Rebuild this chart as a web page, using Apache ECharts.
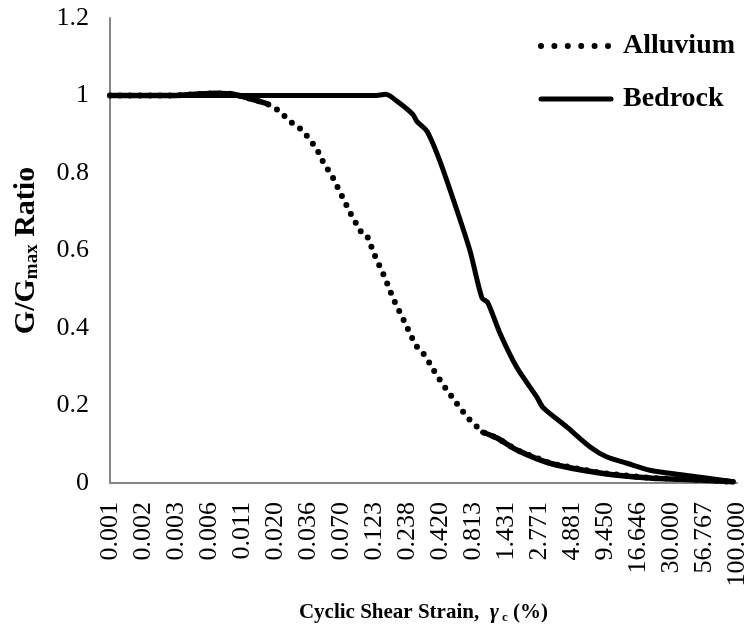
<!DOCTYPE html>
<html>
<head>
<meta charset="utf-8">
<script src="https://cdn.jsdelivr.net/npm/echarts@6/dist/echarts.min.js"></script>
<style>
html,body{margin:0;padding:0;background:#fff;}
#chart{width:750px;height:633px;}
</style>
</head>
<body>
<div id="chart"></div>
<script>
// X tick labels (category positions 0..19)
var xTickLabels = ['0.001','0.002','0.003','0.006','0.011','0.020','0.036','0.070','0.123','0.238','0.420','0.813','1.431','2.771','4.881','9.450','16.646','30.000','56.767','100.000'];

// Alluvium: position along the tick index scale, and G/Gmax
var alluviumX = [0, 1, 2, 2.7, 3.2, 3.7, 4.0, 4.24, 4.76, 5.15, 5.45, 5.70, 5.85, 6.06, 6.30, 6.45, 6.76, 7.03, 7.33, 7.64, 7.79, 8.03, 8.33, 8.58, 8.88, 9.15, 9.33, 9.55, 9.85, 10.15, 10.39, 10.61, 10.91, 11.30, 11.73, 12.33, 13.33, 14.85, 16.36, 17.88, 18.88];
var alluviumY = [1.0, 1.0, 1.0, 1.004, 1.006, 1.004, 0.998, 0.992, 0.979, 0.959, 0.933, 0.920, 0.907, 0.887, 0.856, 0.830, 0.787, 0.740, 0.689, 0.643, 0.638, 0.586, 0.530, 0.476, 0.424, 0.375, 0.347, 0.329, 0.285, 0.247, 0.219, 0.193, 0.162, 0.131, 0.116, 0.085, 0.051, 0.026, 0.013, 0.008, 0.003];

// Bedrock
var bedrockX = [0, 1, 2, 3, 4, 5, 6, 7, 8.0, 8.36, 8.70, 9.18, 9.30, 9.61, 10.0, 10.52, 10.91, 11.27, 11.45, 11.82, 12.33, 12.94, 13.12, 13.85, 14.55, 15.06, 15.67, 16.36, 17.36, 18.88];
var bedrockY = [1.0, 1.0, 1.0, 1.0, 1.0, 1.0, 1.0, 1.0, 1.0, 1.003, 0.985, 0.951, 0.933, 0.907, 0.830, 0.702, 0.599, 0.478, 0.465, 0.386, 0.298, 0.221, 0.195, 0.144, 0.093, 0.067, 0.051, 0.033, 0.021, 0.003];

function pairs(xs, ys){ return xs.map(function(x,i){ return [x, ys[i]]; }); }

var alluviumPts = pairs(alluviumX, alluviumY);
// where the dense points make the dotted line look solid in the original
var alluviumDenseHead = alluviumPts.slice(0, 9);
var alluviumDenseTail = alluviumPts.slice(33);

var serif = '"Liberation Serif", "Times New Roman", serif';
var chart = echarts.init(document.getElementById('chart'));
chart.setOption({
  animation: false,
  backgroundColor: '#fff',
  textStyle: {fontFamily: serif, color: '#000'},
  grid: {left: 110, right: 13, top: 18, bottom: 150, containLabel: false, outerBoundsMode: 'none'},
  legend: {
    orient: 'vertical',
    left: 538, top: 30, padding: 0,
    itemWidth: 70, itemHeight: 14, itemGap: 21,
    itemStyle: {opacity: 0},
    textStyle: {fontFamily: serif, fontWeight: 'bold', fontSize: 28, color: '#000', lineHeight: 32, padding: [0, 0, 0, 7]},
    data: [
      {name: 'Alluvium', lineStyle: {type: [0, 13.4], width: 6, cap: 'round'}},
      {name: 'Bedrock', lineStyle: {width: 5}}
    ]
  },
  xAxis: {
    type: 'value', min: 0, max: 19, interval: 1,
    splitLine: {show: false},
    axisTick: {show: false},
    axisLine: {lineStyle: {color: '#868686', width: 2}},
    axisLabel: {
      rotate: 90, margin: 19, fontSize: 26, color: '#000', fontFamily: serif,
      formatter: function(v){ return xTickLabels[Math.round(v)] || ''; }
    },
    name: '{b|Cyclic Shear Strain,  }{g|γ}{s| c}{b| (%)}',
    nameLocation: 'middle', nameGap: 118,
    nameTextStyle: {
      rich: {
        b: {fontFamily: serif, fontWeight: 'bold', fontSize: 21, color: '#000'},
        g: {fontFamily: serif, fontWeight: 'bold', fontStyle: 'italic', fontSize: 22, color: '#000'},
        s: {fontFamily: serif, fontWeight: 'bold', fontSize: 13, color: '#000', padding: [10, 0, 0, 0]}
      }
    }
  },
  yAxis: {
    type: 'value', min: 0, max: 1.2, interval: 0.2,
    splitLine: {show: false},
    axisTick: {show: false},
    axisLine: {show: true, lineStyle: {color: '#868686', width: 2}},
    axisLabel: {margin: 21, fontSize: 26, color: '#000', fontFamily: serif},
    name: '{b|G/G}{s|max}{b| Ratio}',
    nameLocation: 'middle', nameRotate: 90, nameGap: 68,
    nameTextStyle: {
      rich: {
        b: {fontFamily: serif, fontWeight: 'bold', fontSize: 30, color: '#000'},
        s: {fontFamily: serif, fontWeight: 'bold', fontSize: 19, color: '#000', padding: [12, 0, 0, 0]}
      }
    }
  },
  series: [
    {
      name: 'Alluvium', type: 'line', symbol: 'none', smooth: false,
      data: alluviumPts,
      lineStyle: {color: '#000', width: 6, type: [0, 10], cap: 'round'},
      itemStyle: {color: '#000'}
    },
    {
      name: 'Bedrock', type: 'line', symbol: 'none', smooth: 0.25,
      data: pairs(bedrockX, bedrockY),
      lineStyle: {color: '#000', width: 5, type: 'solid', cap: 'round', join: 'round'},
      itemStyle: {color: '#000'}
    },
    {
      type: 'line', symbol: 'none', silent: true,
      data: alluviumDenseHead,
      lineStyle: {color: '#000', width: 5.5, type: 'solid', cap: 'round', join: 'round'}
    },
    {
      type: 'line', symbol: 'none', silent: true, smooth: 0.25,
      data: alluviumDenseTail,
      lineStyle: {color: '#000', width: 5.5, type: 'solid', cap: 'round', join: 'round'}
    }
  ]
});
</script>
</body>
</html>
